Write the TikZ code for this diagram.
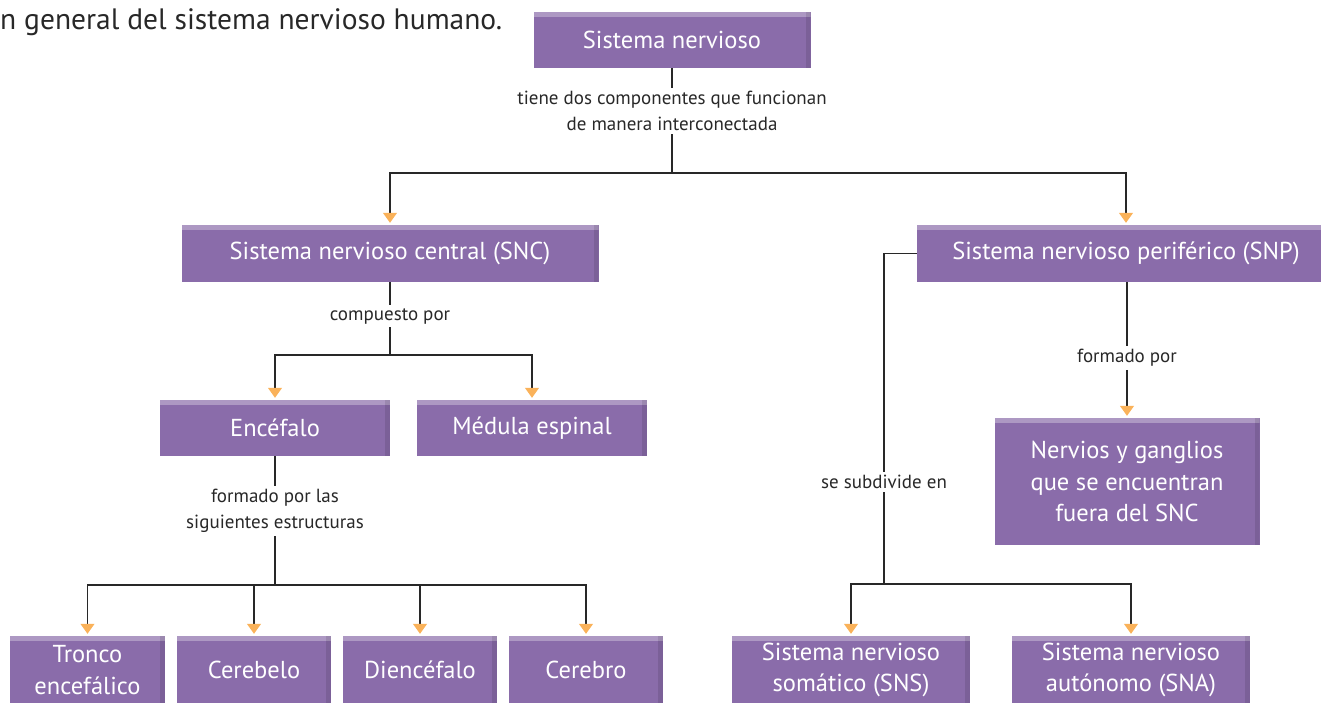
\documentclass[tikz,border=0pt]{standalone}
\usepackage{fontspec}
\setmainfont{PT Sans}
\usetikzlibrary{arrows.meta}

\definecolor{boxpurple}{RGB}{138,108,170}
\definecolor{tiporange}{RGB}{250,178,90}
\definecolor{linegray}{RGB}{40,40,40}

\tikzset{
  box/.style={fill=boxpurple, text=white, align=center, inner sep=0pt,
    font=\fontsize{24.5}{31.5}\selectfont,
    path picture={
      \fill[white,opacity=0.3] (path picture bounding box.north west) rectangle ([yshift=-5pt]path picture bounding box.north east);
      \fill[black,opacity=0.1] ([xshift=-5pt]path picture bounding box.north east) rectangle (path picture bounding box.south east);
    }},
  lbl/.style={text=linegray, align=center, inner sep=3pt, font=\fontsize{19}{26.5}\selectfont},
  conn/.style={draw=linegray, line width=1.1pt},
  arr/.style={conn, shorten >=2pt, -{Triangle[color=tiporange, width=14pt, length=10pt]}}
}

\begin{document}
\begin{tikzpicture}[x=1pt, y=-1pt]
\clip (0,0) rectangle (1321,703);
\useasboundingbox (0,0) rectangle (1321,703);

\node[anchor=base west, text=linegray, inner sep=0pt, font=\fontsize{29.5}{34}\selectfont] (caption) at (0,30) {n general del sistema nervioso humano.};

% boxes
\node[box, minimum width=277pt, minimum height=56pt] (sn) at (672,40) {Sistema nervioso};
\node[box, minimum width=417pt, minimum height=57pt] (snc) at (390,253.5) {Sistema nervioso central (SNC)};
\node[box, minimum width=418pt, minimum height=57pt] (snp) at (1126,253.5) {Sistema nervioso periférico (SNP)};
\node[box, minimum width=230pt, minimum height=56pt] (enc) at (275,428) {Encéfalo};
\node[box, minimum width=230pt, minimum height=56pt] (med) at (532,428) {Médula espinal};
\node[box, minimum width=265pt, minimum height=127pt] (nervios) at (1127,481.5) {Nervios y ganglios\\que se encuentran\\fuera del SNC};

\node[box, minimum width=155pt, minimum height=68pt] (tronco) at (87.5,670) {Tronco\\encefálico};
\node[box, minimum width=154pt, minimum height=68pt] (cerebelo) at (254,670) {Cerebelo};
\node[box, minimum width=154pt, minimum height=68pt] (dienc) at (420,670) {Diencéfalo};
\node[box, minimum width=154pt, minimum height=68pt] (cerebro) at (586,670) {Cerebro};
\node[box, minimum width=238pt, minimum height=68pt] (sns) at (851,670) {Sistema nervioso\\somático (SNS)};
\node[box, minimum width=238pt, minimum height=68pt] (sna) at (1131,670) {Sistema nervioso\\autónomo (SNA)};

% labels
\node[lbl] (l1) at (672,111) {tiene dos componentes que funcionan\\de manera interconectada};
\node[lbl] (l2) at (390,316) {compuesto por};
\node[lbl] (l3) at (275,511) {formado por las\\siguientes estructuras};
\node[lbl] (l4) at (1127,358) {formado por};
\node[lbl] (l5) at (884,482) {se subdivide en};

% junctions
\coordinate (j1) at (672,173);
\coordinate (j2) at (390,355);
\coordinate (j3) at (275,585);
\coordinate (j4) at (884,584);

\draw[conn] (sn) -- (l1);
\draw[conn] (l1) -- (j1);
\draw[arr] (j1) -| (snc.north);
\draw[arr] (j1) -| (snp.north);

\draw[conn] (snc) -- (l2);
\draw[conn] (l2) -- (j2);
\draw[arr] (j2) -| (enc.north);
\draw[arr] (j2) -| (med.north);

\draw[conn] (enc) -- (l3);
\draw[conn] (l3) -- (j3);
\draw[arr] (j3) -| (tronco.north);
\draw[arr] (j3) -| (cerebelo.north);
\draw[arr] (j3) -| (dienc.north);
\draw[arr] (j3) -| (cerebro.north);

\draw[conn] (l4.north |- snp.south) -- (l4);
\draw[arr] (l4) -- (nervios);

\draw[conn] (snp.west) -| (l5.north);
\draw[conn] (l5) -- (j4);
\draw[arr] (j4) -| (sns.north);
\draw[arr] (j4) -| (sna.north);
\end{tikzpicture}
\end{document}
